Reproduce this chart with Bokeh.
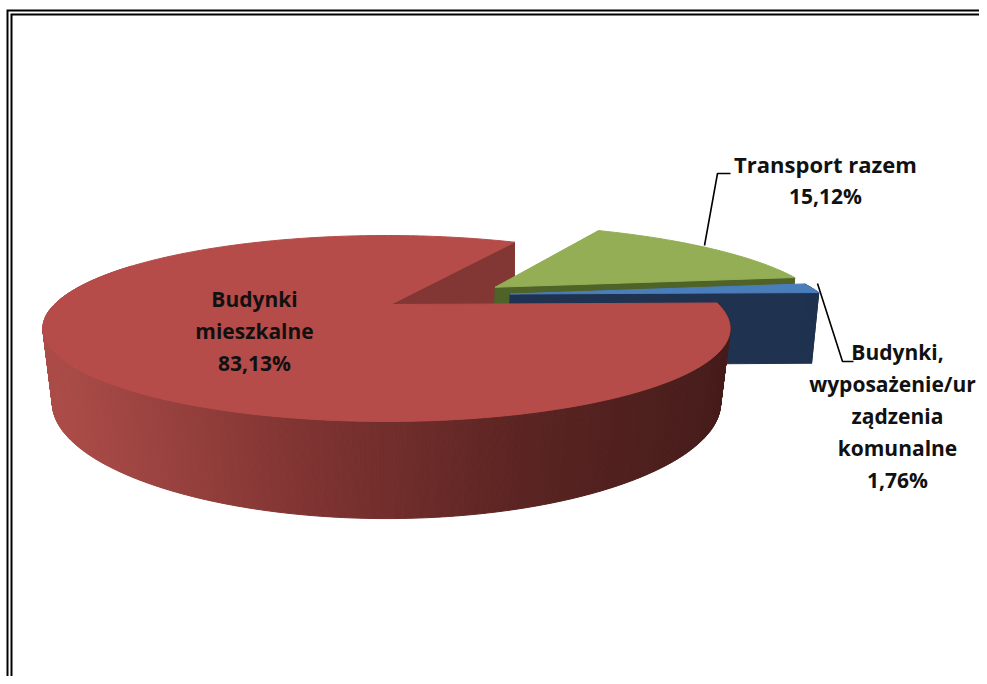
import math
from bokeh.plotting import figure
from bokeh.models import Range1d
from bokeh.core.properties import value
from bokeh.embed import file_html
from bokeh.resources import INLINE

# ---- data ----
categories = ["Budynki mieszkalne", "Transport razem", "Budynki, wyposażenie/urządzenia komunalne"]
shares = [83.13, 15.12, 1.76]
share_labels = ["83,13%", "15,12%", "1,76%"]
label_lines = [["Budynki", "mieszkalne"], ["Transport razem"], ["Budynki,", "wyposażenie/ur", "ządzenia", "komunalne"]]

# ---- layout ----
W, H = 979, 676
CX, CY, A, B, K = 386, 304, 332, 86.8, 0.258
START = 89.0
RED_APEX_NUDGE = 4
OFFSETS = [(0.0, 0.0), (0.345, 0.21), (0.35, 0.125)]
BLUE_APEX_NUDGE = 11


def project(u, v):
    w = 1 + K * v
    return CX + A * u / w, CY - B * v / w


def drop(X, Y):
    s = 1 - 0.00032 * (Y - 240)
    return CX + (X - CX) * s, Y + 60 + 0.205 * (Y - 240)


def rim(deg, off):
    r = math.radians(deg)
    return project(off[0] + math.sin(r), off[1] + math.cos(r))


def arc(a0, a1, off, step=1.0):
    n = max(2, int(abs(a1 - a0) / step))
    return [rim(a0 + (a1 - a0) * i / n, off) for i in range(n + 1)]


total = sum(shares)
spans, a = [], START
for s in shares:
    spans.append((a, a + s / total * 360))
    a += s / total * 360
red, green, blue = spans
red_off, green_off, blue_off = OFFSETS
RED_TOP, GREEN_TOP, BLUE_TOP = "#b54c49", "#93ae55", "#4a7ebb"
RED_CUT, GREEN_SIDE, BLUE_SIDE = "#833734", "#4f6228", "#1f3350"

p = figure(width=W, height=H, output_backend="svg", toolbar_location=None,
           x_range=Range1d(0, W), y_range=Range1d(H, 0), min_border=0,
           outline_line_color=None, background_fill_color="white")
p.xaxis.visible = False
p.yaxis.visible = False
p.grid.visible = False


def poly(points, color):
    p.patch([q[0] for q in points], [q[1] for q in points], fill_color=color, line_color=color, line_width=1)


def wall(a0, a1, off, color_fn):
    pts = arc(a0, a1, off, 0.5)
    xs, ys, cols = [], [], []
    for q0, q1 in zip(pts[:-1], pts[1:]):
        d0, d1 = drop(*q0), drop(*q1)
        xs.append([q0[0], q1[0], d1[0], d0[0]])
        ys.append([q0[1], q1[1], d1[1], d0[1]])
        cols.append(color_fn((q0[0] + q1[0]) / 2))
    p.patches(xs, ys, fill_color=cols, line_color=cols, line_width=1)


STOPS = [(50, (172, 76, 72)), (300, (128, 52, 50)), (530, (90, 36, 34)), (725, (70, 28, 26))]


def red_shade(x):
    c = STOPS[0][1] if x <= STOPS[0][0] else STOPS[-1][1]
    for (x0, c0), (x1, c1) in zip(STOPS[:-1], STOPS[1:]):
        if x0 <= x <= x1:
            t = (x - x0) / (x1 - x0)
            c = tuple(c0[i] + (c1[i] - c0[i]) * t for i in range(3))
            break
    return "#%02x%02x%02x" % tuple(int(round(v)) for v in c)


def apex_of(off, nudge=0):
    x, y = project(*off)
    return x + nudge, y


def face(angle, off, color, nudge=0):
    apex, tip = apex_of(off, nudge), rim(angle, off)
    poly([apex, tip, drop(*tip), drop(*apex)], color)


# back faces first, red top last
face(red[1], red_off, RED_CUT, RED_APEX_NUDGE)
face(green[1], green_off, GREEN_SIDE)
poly([apex_of(green_off)] + arc(green[0], green[1], green_off), GREEN_TOP)
face(blue[1], blue_off, BLUE_SIDE, BLUE_APEX_NUDGE)
wall(blue[0], blue[1], blue_off, lambda x: BLUE_SIDE)
poly([apex_of(blue_off, BLUE_APEX_NUDGE)] + arc(blue[0], blue[1], blue_off), BLUE_TOP)
wall(red[0], 300, red_off, red_shade)
poly([apex_of(red_off, RED_APEX_NUDGE)] + arc(red[0], red[1], red_off), RED_TOP)

# double frame (open on the right and at the bottom)
for fx, fy in [(7, 10), (11, 14)]:
    p.line([fx, fx, W], [H, fy, fy], line_color="black", line_width=2, line_join="miter")

# leaders
p.line([704, 717, 730], [245, 173, 173], line_color="black", line_width=1.6)
p.line([817, 842, 853], [283, 361, 361], line_color="black", line_width=1.6)

# labels
font = value("Open Sans")


def label(lines, centres, y0, step=32.0, sizes=None):
    for i, line in enumerate(lines):
        p.text([centres[i]], [y0 + i * step], text=[line], text_align="center", text_baseline="middle",
               text_font=font, text_font_size=(sizes[i] if sizes else "21px"), text_font_style="bold",
               text_color="#111111")


label(label_lines[0] + [share_labels[0]], [254, 254, 254], 298)
label(label_lines[1] + [share_labels[1]], [825, 825], 163, sizes=["22px", "21px"])
label(label_lines[2] + [share_labels[2]], [897, 892, 897, 897, 897], 351, step=32.2)

open("out.html", "w").write(file_html(p, INLINE))
